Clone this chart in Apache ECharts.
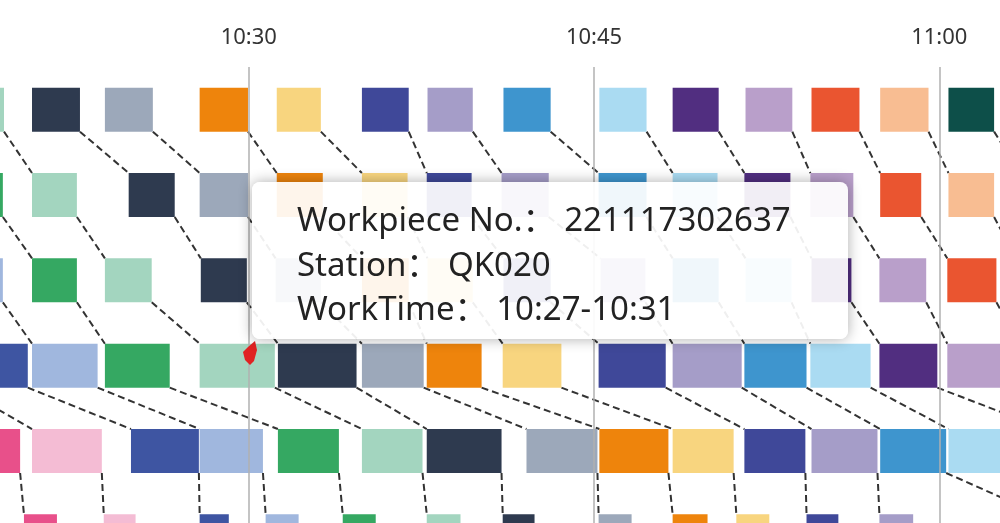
<!DOCTYPE html>
<html>
<head>
<meta charset="utf-8">
<script src="https://cdn.jsdelivr.net/npm/echarts@6/dist/echarts.min.js"></script>
<style>
  html, body { margin: 0; padding: 0; background: #fff; }
  #main { width: 1000px; height: 523px; }
</style>
</head>
<body>
<div id="main"></div>
<script>
// stations (rows, top to bottom)
const stations = ['QK005', 'QK010', 'QK015', 'QK020', 'QK025', 'QK030']

// workpieces, one colour each
const workpieceNos = [
  '221117302632', '221117302633', '221117302634', '221117302635', '221117302636',
  '221117302637', '221117302638', '221117302639', '221117302640', '221117302641',
  '221117302642', '221117302643', '221117302644', '221117302645', '221117302646',
  '221117302647', '221117302648', '221117302649', '221117302650'
]
const workpieceColors = [
  '#e8508a', '#f4bcd4', '#3e55a2', '#a0b7de', '#35a862',
  '#a3d5bf', '#2e3a4f', '#9ca8ba', '#ee840c', '#f8d57f',
  '#3f4899', '#a59dc8', '#3e95ce', '#aadbf2', '#512e80',
  '#b99fca', '#ea5530', '#f8bd92', '#0d4f49'
]

// [workpiece, start, end] per station
const qk005 = [
  [4, '10:14:10', '10:16:15'], [5, '10:17:19', '10:19:22'], [6, '10:20:35', '10:22:40'],
  [7, '10:23:45', '10:25:50'], [8, '10:27:52', '10:29:58'], [9, '10:31:13', '10:33:08'],
  [10, '10:34:55', '10:36:57'], [11, '10:37:46', '10:39:44'], [12, '10:41:04', '10:43:07'],
  [13, '10:45:14', '10:47:17'], [14, '10:48:25', '10:50:25'], [15, '10:51:35', '10:53:37'],
  [16, '10:54:27', '10:56:32'], [17, '10:57:26', '10:59:32'], [18, '11:00:24', '11:02:23']
]
const qk010 = [
  [3, '10:14:05', '10:16:10'], [4, '10:17:18', '10:19:19'], [5, '10:20:35', '10:22:32'],
  [6, '10:24:47', '10:26:47'], [7, '10:27:52', '10:29:58'], [8, '10:31:13', '10:33:13'],
  [9, '10:34:55', '10:36:54'], [10, '10:37:44', '10:39:41'], [11, '10:40:59', '10:43:02'],
  [12, '10:45:12', '10:47:17'], [13, '10:48:25', '10:50:22'], [14, '10:51:32', '10:53:32'],
  [15, '10:54:24', '10:56:16'], [16, '10:57:26', '10:59:13'], [17, '11:00:24', '11:02:23'],
  [18, '11:03:30', '11:05:30']
]
const qk015 = [
  [2, '10:14:00', '10:16:05'], [3, '10:17:24', '10:19:19'], [4, '10:20:35', '10:22:32'],
  [5, '10:23:45', '10:25:47'], [6, '10:27:55', '10:29:55'], [7, '10:31:10', '10:33:08'],
  [8, '10:34:55', '10:36:57'], [9, '10:37:46', '10:39:44'], [10, '10:41:04', '10:43:07'],
  [11, '10:45:17', '10:47:14'], [12, '10:48:25', '10:50:25'], [13, '10:51:35', '10:53:35'],
  [14, '10:54:27', '10:56:11'], [15, '10:57:24', '10:59:26'], [16, '11:00:21', '11:02:29'],
  [17, '11:03:20', '11:05:20']
]
const qk020 = [
  [0, '10:12:00', '10:14:30'], [1, '10:14:50', '10:17:28'], [2, '10:17:30', '10:20:24'],
  [3, '10:20:35', '10:23:26'], [4, '10:23:45', '10:26:34'], [5, '10:27:52', '10:31:08'],
  [6, '10:31:16', '10:34:41'], [7, '10:34:55', '10:37:36'], [8, '10:37:44', '10:40:07'],
  [9, '10:41:02', '10:43:35'], [10, '10:45:12', '10:48:07'], [11, '10:48:25', '10:51:25'],
  [12, '10:51:32', '10:54:14'], [13, '10:54:24', '10:57:01'], [14, '10:57:24', '10:59:55'],
  [15, '11:00:21', '11:03:10'], [16, '11:03:30', '11:06:20']
]
const qk025 = [
  [0, '10:16:58', '10:20:04'], [1, '10:20:35', '10:23:37'], [2, '10:24:53', '10:27:50'],
  [3, '10:27:52', '10:30:37'], [4, '10:31:16', '10:33:55'], [5, '10:34:55', '10:37:33'],
  [6, '10:37:44', '10:40:59'], [7, '10:42:04', '10:45:09'], [8, '10:45:14', '10:48:14'],
  [9, '10:48:25', '10:51:04'], [10, '10:51:32', '10:54:11'], [11, '10:54:27', '10:57:19'],
  [12, '10:57:26', '11:00:18'], [13, '11:00:24', '11:03:10'], [14, '11:04:36', '11:07:20']
]
const qk030 = [
  [0, '10:20:14', '10:21:40'], [1, '10:23:42', '10:25:05'], [2, '10:27:52', '10:29:08'],
  [3, '10:30:44', '10:32:10'], [4, '10:34:05', '10:35:31'], [5, '10:37:44', '10:39:12'],
  [6, '10:41:02', '10:42:25'], [7, '10:45:12', '10:46:38'], [8, '10:48:25', '10:49:56'],
  [9, '10:51:11', '10:52:37'], [10, '10:54:14', '10:55:37'], [11, '10:57:24', '10:58:52'],
  [12, '11:04:21', '11:05:50']
]

const schedule = [qk005, qk010, qk015, qk020, qk025, qk030]
const hovered = { station: 3, workpiece: 5 }

// minutes after 10:00
function toMin (t) {
  const [h, m, s] = t.split(':').map(Number)
  return (h - 10) * 60 + m + s / 60
}
function fmt (v) {
  const m = Math.floor(v + 1e-6)
  return (10 + Math.floor(m / 60)) + ':' + String(m % 60).padStart(2, '0')
}

const boxes = []
const links = []
let hoverIndex = 0
schedule.forEach((rows, si) => {
  rows.forEach(r => {
    if (si === hovered.station && r[0] === hovered.workpiece) hoverIndex = boxes.length
    boxes.push([si, toMin(r[1]), toMin(r[2]), r[0]])
    const next = schedule[si + 1]
    if (next) {
      const n = next.find(x => x[0] === r[0])
      if (n) links.push([si, toMin(r[2]), toMin(n[1]), r[0]])
    }
  })
})

const chart = echarts.init(document.getElementById('main'))
const BAR = 0.515

chart.setOption({
  animation: false,
  grid: { left: -96.5, right: -284.5, top: 67, bottom: -56, outerBoundsMode: 'none' },
  tooltip: {
    trigger: 'item',
    triggerOn: 'none',
    alwaysShowContent: true,
    position: [252, 182],
    transitionDuration: 0,
    backgroundColor: 'rgba(255,255,255,0.92)',
    borderWidth: 0,
    padding: [15, 45, 8, 45],
    extraCssText: 'width:596px;box-sizing:border-box;border-radius:8px;box-shadow:0 0 14px rgba(0,0,0,0.32);',
    textStyle: { fontSize: 33, color: '#222', fontFamily: '"Noto Sans", "Noto Sans CJK SC", sans-serif' },
    formatter: p => {
      const v = p.value
      return '<div style="line-height:44.5px;font-size:33px;color:#222;white-space:nowrap">' +
        'Workpiece No.：&nbsp;' + workpieceNos[v[3]] + '<br/>' +
        'Station：&nbsp;' + stations[v[0]] + '<br/>' +
        'WorkTime：&nbsp;' + fmt(v[1]) + '-' + fmt(v[2]) + '</div>'
    }
  },
  xAxis: {
    type: 'value',
    position: 'top',
    min: 15,
    max: 75,
    interval: 15,
    z: 10,
    axisLine: { lineStyle: { color: '#666', width: 2 } },
    axisTick: { show: false },
    axisLabel: {
      margin: 18,
      fontSize: 22,
      color: '#333',
      fontFamily: '"Noto Sans", sans-serif',
      formatter: fmt
    },
    splitLine: { show: true, lineStyle: { color: '#b0b0b0', width: 1.5 } }
  },
  yAxis: {
    type: 'category',
    data: stations,
    inverse: true,
    show: false
  },
  series: [
    {
      type: 'custom',
      silent: true,
      tooltip: { show: false },
      clip: true,
      encode: { x: [1, 2], y: 0 },
      data: links,
      renderItem: (params, api) => {
        const h = api.size([0, 1])[1] * BAR
        const p1 = api.coord([api.value(1), api.value(0)])
        const p2 = api.coord([api.value(2), api.value(0) + 1])
        return {
          type: 'line',
          shape: { x1: p1[0], y1: p1[1] + h / 2, x2: p2[0], y2: p2[1] - h / 2 },
          style: { stroke: '#333', lineWidth: 2, lineDash: [7, 4] }
        }
      }
    },
    {
      type: 'custom',
      clip: true,
      encode: { x: [1, 2], y: 0 },
      data: boxes,
      renderItem: (params, api) => {
        const h = api.size([0, 1])[1] * BAR
        const p1 = api.coord([api.value(1), api.value(0)])
        const p2 = api.coord([api.value(2), api.value(0)])
        return {
          type: 'rect',
          shape: { x: p1[0], y: p1[1] - h / 2, width: p2[0] - p1[0], height: h },
          style: { fill: workpieceColors[api.value(3)] }
        }
      }
    }
  ],
  graphic: [{
    type: 'polygon',
    z: 100,
    shape: { points: [[255, 341], [257, 350], [254, 361], [250, 365], [245, 360], [243, 352], [248, 347]] },
    style: { fill: '#e02222' }
  }]
})

chart.dispatchAction({ type: 'showTip', seriesIndex: 1, dataIndex: hoverIndex })
</script>
</body>
</html>
